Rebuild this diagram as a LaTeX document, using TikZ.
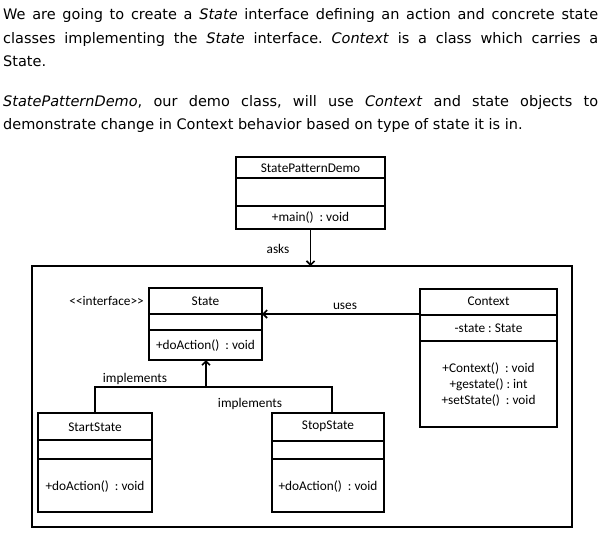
\documentclass[tikz,border=0pt]{standalone}
\usepackage{fontspec}
\setmainfont{DejaVu Sans}
\newfontfamily\calfont{Carlito}
\usetikzlibrary{arrows.meta}
\frenchspacing
\begin{document}
\begin{tikzpicture}[x=1pt,y=-1pt,
  umlbox/.style={draw, line width=1.6pt, inner sep=0pt, outer sep=0pt, rectangle},
  lbl/.style={font=\calfont\fontsize{13.3}{15}\selectfont, inner sep=0pt},
  para/.style={anchor=base west, inner sep=0pt, font=\fontsize{14.5}{17}\selectfont},
  conn/.style={line width=1.6pt},
  arr/.style={conn, -{Straight Barb[length=4pt,width=8pt]}}
]
\useasboundingbox (0,0) rectangle (604,539);

% paragraph text
\node[para] (t1) at (3,19) {\makebox[595pt][s]{We are going to create a \textit{State} interface defining an action and concrete state}};
\node[para] (t2) at (3,43) {\makebox[595pt][s]{classes implementing the \textit{State} interface. \textit{Context} is a class which carries a}};
\node[para] (t3) at (3,66) {State.};
\node[para] (t4) at (3,106) {\makebox[595pt][s]{\textit{StatePatternDemo}, our demo class, will use \textit{Context} and state objects to}};
\node[para] (t5) at (3,129) {demonstrate change in Context behavior based on type of state it is in.};

% outer frame
\node[umlbox, minimum width=540pt, minimum height=261pt] (outer) at (302,396.5) {};

% StatePatternDemo
\node[umlbox, minimum width=149pt, minimum height=72pt] (demo) at (310.5,193) {};
\draw[conn] (demo.north west) ++(0,21) -- ++(149,0);
\draw[conn] (demo.north west) ++(0,49) -- ++(149,0);
\node[lbl] (demoname) at (310.5,168) {StatePatternDemo};
\node[lbl] (demomain) at (310.5,218) {+main()\ \ : void};

% State
\node[umlbox, minimum width=113pt, minimum height=72pt] (state) at (205.5,324) {};
\draw[conn] (state.north west) ++(0,26) -- ++(113,0);
\draw[conn] (state.north west) ++(0,42) -- ++(113,0);
\node[lbl] (statename) at (205.5,301) {State};
\node[lbl] (stateop) at (205.5,346) {+doAction()\ \ : void};
\node[lbl, anchor=east] (iface) at (144,301) {<<interface>{}>};

% Context
\node[umlbox, minimum width=137pt, minimum height=138pt] (ctx) at (488.5,358) {};
\draw[conn] (ctx.north west) ++(0,26) -- ++(137,0);
\draw[conn] (ctx.north west) ++(0,52) -- ++(137,0);
\node[lbl] (ctxname) at (488.5,301) {Context};
\node[lbl] (ctxattr) at (488.5,328) {-state : State};
\node[lbl] (ctxop1) at (488.5,369) {+Context()\ \ : void};
\node[lbl] (ctxop2) at (488.5,385) {+gestate() : int};
\node[lbl] (ctxop3) at (488.5,401) {+setState()\ \ : void};

% StartState
\node[umlbox, minimum width=114pt, minimum height=99pt] (start) at (95,462.5) {};
\draw[conn] (start.north west) ++(0,27) -- ++(114,0);
\draw[conn] (start.north west) ++(0,46) -- ++(114,0);
\node[lbl] (startname) at (95,427) {StartState};
\node[lbl] (startop) at (95,487) {+doAction()\ \ : void};

% StopState
\node[umlbox, minimum width=112pt, minimum height=99pt] (stop) at (328,462.5) {};
\draw[conn] (stop.north west) ++(0,28) -- ++(112,0);
\draw[conn] (stop.north west) ++(0,46) -- ++(112,0);
\node[lbl] (stopname) at (328,426) {StopState};
\node[lbl] (stopop) at (328,487) {+doAction()\ \ : void};

% connectors
\draw[arr] (demo.south) -- (demo.south |- outer.north);
\node[lbl] (asks) at (278,249) {asks};

\draw[arr] ([yshift=44pt]ctx.west) -- ([yshift=44pt]ctx.west -| state.east);
\node[lbl] (uses) at (345,306) {uses};

\coordinate (j) at (206,387);
\coordinate (stoptop) at ([xshift=4pt]stop.north);
\draw[conn] (start.north) -- (start.north |- j) -- (stoptop |- j) -- (stoptop);
\draw[arr] (j) -- (j |- state.south);
\node[lbl] (impl1) at (135,379) {implements};
\node[lbl] (impl2) at (250,404) {implements};
\end{tikzpicture}
\end{document}
